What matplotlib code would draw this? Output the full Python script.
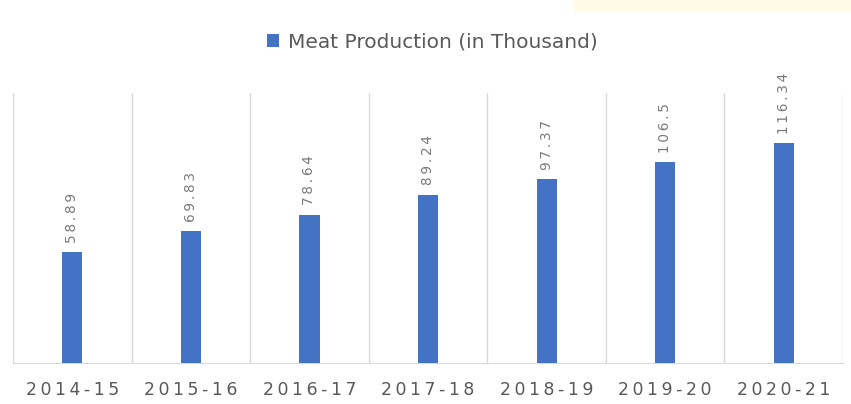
import matplotlib.pyplot as plt
import matplotlib.patches as mpatches
import numpy as np

years = ['2014-15', '2015-16', '2016-17', '2017-18', '2018-19', '2019-20', '2020-21']
production = [58.89, 69.83, 78.64, 89.24, 97.37, 106.5, 116.34]

bar_col = '#4472C4'
grid_col = '#d9d9d9'
txt_col = '#595959'

def spaced(s):
    # wide letter spacing like the original
    return '\u2009'.join(s)

fig = plt.figure(figsize=(8.51, 4.04), dpi=100)
# faint yellow strip at the top right
fig.patches.append(mpatches.Rectangle((0.675, 0.97), 0.325, 0.03, transform=fig.transFigure,
                                      facecolor='#fffbe8', edgecolor='none'))
ax = fig.add_axes([0.0153, 0.1015, 0.9753, 0.6683])

x = np.arange(len(years))
bars = ax.bar(x, production, width=0.17, color=bar_col, label='Meat Production (in Thousand)', zorder=3)

for b, v in zip(bars, production):
    ax.annotate(spaced('%g' % v), (b.get_x() + b.get_width() / 2, v), xytext=(0, 6.5),
                textcoords='offset points', rotation=90, ha='center', va='bottom',
                fontsize=9.8, color='#7a7a7a')

ax.set_xlim(-0.5, len(years) - 0.5)
ax.set_ylim(0, 143)
for i in range(len(years) + 1):
    ax.axvline(i - 0.5, color=grid_col, lw=1, zorder=1)

ax.set_yticks([])
ax.set_xticks(x)
ax.set_xticklabels([spaced(y) for y in years], fontsize=12.5, color=txt_col)
ax.tick_params(axis='x', length=0, pad=13)
for s in ['top', 'left', 'right']:
    ax.spines[s].set_visible(False)
ax.spines['bottom'].set_color(grid_col)

fig.legend(loc='center', bbox_to_anchor=(0.508, 0.896), frameon=False, fontsize=14.5,
           handlelength=0.6, handleheight=0.6, handletextpad=0.4, labelcolor=txt_col)

plt.savefig('out.png', dpi=100)
